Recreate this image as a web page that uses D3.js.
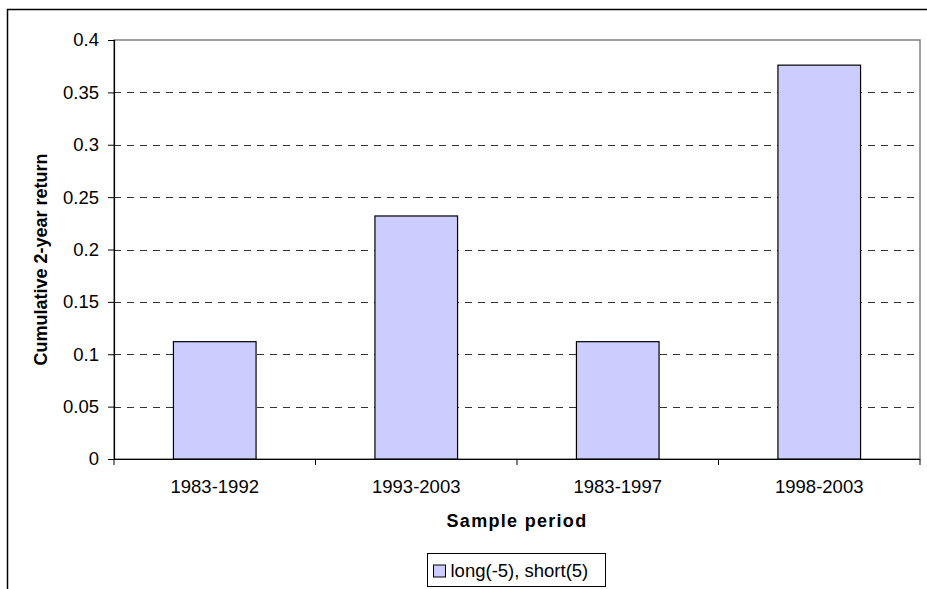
<!DOCTYPE html>
<html>
<head>
<meta charset="utf-8">
<script src="https://cdn.jsdelivr.net/npm/d3@7"></script>
<style>
  body { margin: 0; background: #fff; }
  text { font-family: "Liberation Sans", Arial, sans-serif; }
</style>
</head>
<body>
<div class="chart"></div>
<script>
// chart data
var periods = ["1983-1992", "1993-2003", "1983-1997", "1998-2003"];
var returns = [0.112, 0.232, 0.112, 0.376];
var yTicks = [0, 0.05, 0.1, 0.15, 0.2, 0.25, 0.3, 0.35, 0.4];
var seriesName = "long(-5), short(5)";

var svgWidth = 927;
var svgHeight = 589;
var margin = { top: 40, right: 7, bottom: 130, left: 114 };
var width = svgWidth - margin.left - margin.right;
var height = svgHeight - margin.top - margin.bottom;

var svg = d3.select(".chart")
    .append("svg")
    .attr("width", svgWidth)
    .attr("height", svgHeight);

// outer chart frame (bottom and right run off the picture)
svg.append("rect")
    .attr("x", 7.5).attr("y", 9.5)
    .attr("width", 940).attr("height", 600)
    .attr("fill", "none")
    .attr("stroke", "#000")
    .attr("stroke-width", 1.5);

var chart = svg.append("g")
    .attr("transform", `translate(${margin.left},${margin.top})`);

var xScale = d3.scaleBand().domain(periods).range([0, width]).paddingInner(0.59).paddingOuter(0.295);
var xBand = d3.scaleBand().domain(periods).range([0, width]);
var yScale = d3.scaleLinear().domain([0, 0.4]).range([height, 0]);

// plot area border
chart.append("rect")
    .attr("x", 0).attr("y", 0)
    .attr("width", width).attr("height", height)
    .attr("fill", "none")
    .attr("stroke", "#808080")
    .attr("stroke-width", 1.5);

// dashed gridlines
chart.selectAll(".grid")
    .data(yTicks.filter(function (d) { return d > 0 && d < 0.4; }))
    .enter()
    .append("line")
    .attr("class", "grid")
    .attr("x1", 0).attr("x2", width)
    .attr("y1", function (d) { return Math.round(yScale(d)) + 0.5; })
    .attr("y2", function (d) { return Math.round(yScale(d)) + 0.5; })
    .attr("stroke", "#333")
    .attr("stroke-dasharray", "7,6");

// bars
chart.selectAll(".bar")
    .data(returns)
    .enter()
    .append("rect")
    .attr("class", "bar")
    .attr("x", function (d, i) { return xScale(periods[i]); })
    .attr("width", xScale.bandwidth())
    .attr("y", function (d) { return yScale(d); })
    .attr("height", function (d) { return height - yScale(d); })
    .attr("fill", "#ccccff")
    .attr("stroke", "#000")
    .attr("stroke-width", 1.2);

// y axis
var yAxis = d3.axisLeft(yScale).tickValues(yTicks).tickSize(6).tickPadding(9)
    .tickFormat(function (d) { return String(+d.toFixed(2)); });
var gy = chart.append("g").attr("class", "y-axis").call(yAxis);
gy.select(".domain").attr("stroke", "#000").attr("stroke-width", 1.2);
gy.selectAll(".tick line").attr("stroke", "#000");
gy.selectAll("text").attr("font-size", "18.5px").attr("fill", "#000")
    .attr("font-family", "'Liberation Sans', Arial, sans-serif");

// x axis: ticks at category boundaries
chart.append("line")
    .attr("x1", -6).attr("x2", width)
    .attr("y1", height + 0.5).attr("y2", height + 0.5)
    .attr("stroke", "#000").attr("stroke-width", 1.2);
chart.selectAll(".xtick")
    .data(periods.concat(["end"]))
    .enter()
    .append("line")
    .attr("class", "xtick")
    .attr("x1", function (d, i) { return i < periods.length ? xBand(d) : width; })
    .attr("x2", function (d, i) { return i < periods.length ? xBand(d) : width; })
    .attr("y1", height).attr("y2", height + 6)
    .attr("stroke", "#000");
chart.selectAll(".xlabel")
    .data(periods)
    .enter()
    .append("text")
    .attr("class", "xlabel")
    .attr("x", function (d) { return xBand(d) + xBand.bandwidth() / 2; })
    .attr("y", height + 34)
    .attr("text-anchor", "middle")
    .attr("font-size", "18.5px")
    .text(function (d) { return d; });

// axis titles
chart.append("text")
    .attr("x", width / 2)
    .attr("y", height + 68)
    .attr("text-anchor", "middle")
    .attr("font-size", "18px")
    .attr("font-weight", "bold")
    .attr("letter-spacing", "1.3px")
    .text("Sample period");

chart.append("text")
    .attr("transform", `translate(${-67},${219.5}) rotate(-90)`)
    .attr("text-anchor", "middle")
    .attr("font-size", "18px")
    .attr("font-weight", "bold")
    .text("Cumulative 2-year return");

// legend
var legend = svg.append("g").attr("transform", "translate(427.5,553.5)");
legend.append("rect")
    .attr("width", 178).attr("height", 33)
    .attr("fill", "#fff").attr("stroke", "#000");
legend.append("rect")
    .attr("x", 6).attr("y", 11.5)
    .attr("width", 12).attr("height", 12)
    .attr("fill", "#ccccff").attr("stroke", "#000");
legend.append("text")
    .attr("x", 23).attr("y", 23.5)
    .attr("font-size", "18.5px")
    .text(seriesName);
</script>
</body>
</html>
